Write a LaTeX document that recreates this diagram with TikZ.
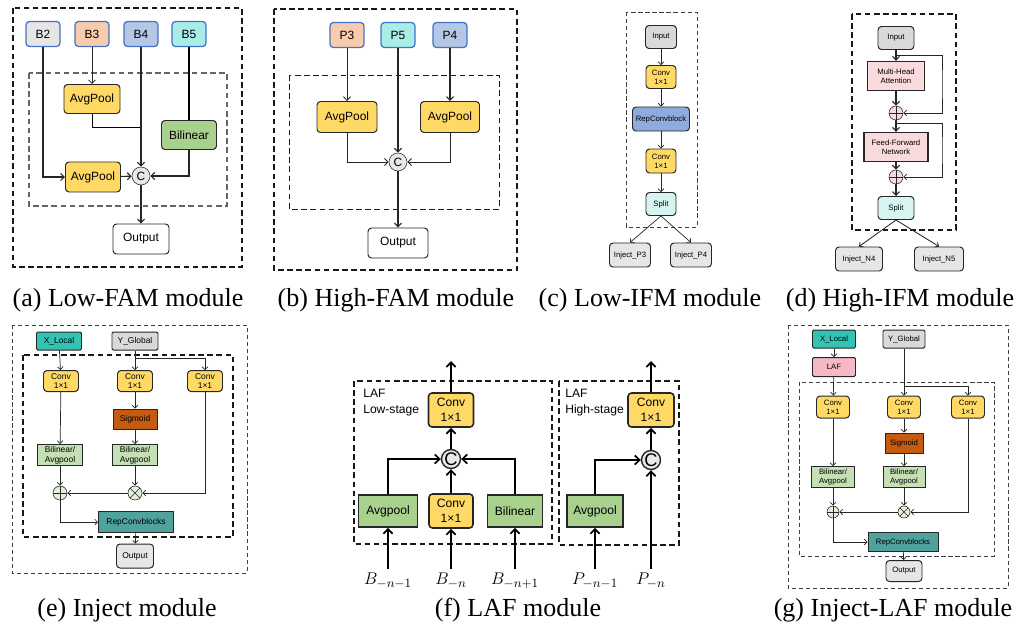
\documentclass[tikz,border=0pt]{standalone}
\usepackage{fontspec}
\setmainfont{Liberation Serif}
\setsansfont{Liberation Sans}
\usetikzlibrary{arrows.meta,positioning,calc}
\definecolor{FeatBlue}{HTML}{4472C4}
\definecolor{FeatGray}{HTML}{E7E6E6}
\definecolor{FeatPeach}{HTML}{F8CBAD}
\definecolor{FeatLav}{HTML}{B4C7E7}
\definecolor{FeatCyan}{HTML}{A8EDE6}
\definecolor{PoolYellow}{HTML}{FFD966}
\definecolor{BilGreen}{HTML}{A9D18E}
\definecolor{CatGray}{HTML}{E8E8E8}
\definecolor{RepBlue}{HTML}{8FAADC}
\definecolor{SplitCyan}{HTML}{D6F5F1}
\definecolor{AttnPink}{HTML}{FADADD}
\definecolor{LocalTeal}{HTML}{33C3B5}
\definecolor{GlobalGray}{HTML}{D9D9D9}
\definecolor{SigOrange}{HTML}{C55A11}
\definecolor{PaleGreen}{HTML}{C5E0B4}
\definecolor{SumGreen}{HTML}{E2F0D9}
\definecolor{RepTeal}{HTML}{4FA39C}
\definecolor{LafPink}{HTML}{F4B9C5}
\newcommand{\pxu}{0.025cm}

\begin{document}
\begin{tikzpicture}[x=0.025cm,y=-0.025cm]
  \tikzset{
    sz/.style 2 args={minimum width=#1*\pxu,minimum height=#2*\pxu},
    blk/.style={draw=black!85,rounded corners=2.5pt,inner sep=0pt,align=center,line width=0.7pt},
    sqblk/.style={draw=black!85,inner sep=0pt,align=center,line width=0.7pt},
    famtext/.style={font=\fontsize{8.5}{10}\selectfont\sffamily},
    ifmtext/.style={font=\fontsize{5.5}{6.5}\selectfont\sffamily},
    injtext/.style={font=\fontsize{6}{7}\selectfont\sffamily},
    laftext/.style={font=\fontsize{8.6}{11}\selectfont\sffamily},
    featbox/.style={blk,draw=FeatBlue,line width=0.9pt,sz={34}{25},famtext},
    catnode/.style={circle,draw=black!85,fill=CatGray,inner sep=0pt,minimum size=#1*\pxu},
    oplus/.style={circle,draw=black!85,inner sep=0pt,minimum size=#1*\pxu,
      path picture={\draw[black!85] (path picture bounding box.north)--(path picture bounding box.south)
        (path picture bounding box.west)--(path picture bounding box.east);}},
    otimes/.style={circle,draw=black!85,inner sep=0pt,minimum size=#1*\pxu,
      path picture={\draw[black!85] (path picture bounding box.north west)--(path picture bounding box.south east)
        (path picture bounding box.north east)--(path picture bounding box.south west);}},
    outframe/.style={draw=black!90,line width=1pt,dash pattern=on 4pt off 2.5pt},
    thinframe/.style={draw=black!75,line width=0.5pt,dash pattern=on 3pt off 2pt},
    arr/.style={-{Straight Barb[length=2.6pt,width=5pt]},line width=0.8pt,draw=black!85},
    thinarr/.style={-{Straight Barb[length=2pt,width=4pt]},line width=0.5pt,draw=black!85},
    fatarr/.style={-{Straight Barb[length=3.4pt,width=6.5pt]},line width=1.2pt,draw=black},
    captext/.style={font=\fontsize{18.5}{21}\selectfont,inner sep=0pt}
  }
  \useasboundingbox (0,0) rectangle (1022,627);

  % (a) Low-FAM
  \draw[outframe] (13,8) rectangle (242,267);
  \draw[outframe,draw=black!60,line width=0.8pt] (29,73) rectangle (227,206);
  \node[featbox,fill=FeatGray] (b2) at (43,34) {B2};
  \node[featbox,fill=FeatPeach] (b3) at (92,34) {B3};
  \node[featbox,fill=FeatLav] (b4) at (141,34) {B4};
  \node[featbox,fill=FeatCyan] (b5) at (189,34) {B5};
  \node[blk,fill=PoolYellow,sz={56}{29},famtext] (lpool1) at (92,99) {AvgPool};
  \node[blk,fill=BilGreen,sz={55}{29},famtext] (lbil) at (189,135) {Bilinear};
  \node[blk,fill=PoolYellow,sz={55}{30},famtext] (lpool2) at (93,177) {AvgPool};
  \node[catnode=18,famtext] (lcat) at (141,176) {C};
  \node[blk,sz={56}{30},famtext] (lout) at (141,239) {Output};
  \coordinate (ljoin) at (141,127);
  \draw[arr] (b2.south) |- (lpool2.west);
  \draw[arr,line width=0.5pt] (b3) -- (lpool1);
  \draw[line width=0.5pt] (lpool1.south) |- (ljoin);
  \draw[arr] (b4) -- (lcat);
  \draw[line width=0.8pt] (b5) -- (lbil);
  \draw[arr] (lbil.south) |- (lcat.east);
  \draw[arr] (lpool2) -- (lcat);
  \draw[arr] (lcat) -- (lout);
  \node[captext] (capa) at (128,300) {(a) Low-FAM module};

  % (b) High-FAM
  \draw[outframe] (274,9) rectangle (517,270);
  \draw[outframe,line width=0.6pt] (289,75) rectangle (499,209);
  \node[featbox,fill=FeatPeach] (p3) at (347,35) {P3};
  \node[featbox,fill=FeatCyan] (p5) at (398,35) {P5};
  \node[featbox,fill=FeatLav] (p4) at (450,35) {P4};
  \node[blk,fill=PoolYellow,sz={60}{31},famtext] (hpool1) at (347,117) {AvgPool};
  \node[blk,fill=PoolYellow,sz={59}{31},famtext] (hpool2) at (450,117) {AvgPool};
  \node[catnode=18,famtext] (hcat) at (398,162) {C};
  \node[blk,sz={60}{30},famtext] (hout) at (398,243) {Output};
  \draw[arr,line width=0.6pt] (p3) -- (hpool1);
  \draw[arr] (p5) -- (hcat);
  \draw[arr] (p4) -- (hpool2);
  \draw[arr,line width=0.6pt] (hpool1.south) |- (hcat.west);
  \draw[arr,line width=0.6pt] (hpool2.south) |- (hcat.east);
  \draw[arr] (hcat) -- (hout);
  \node[captext] (capb) at (396,300) {(b) High-FAM module};

  % (c) Low-IFM
  \draw[thinframe] (626,12) rectangle (697,227);
  \node[blk,fill=GlobalGray,sz={31}{23},ifmtext] (cin) at (661,37) {Input};
  \node[blk,fill=PoolYellow,sz={30}{23},ifmtext] (cconv1) at (661,77) {Conv\\1×1};
  \node[blk,fill=RepBlue,sz={57}{24},ifmtext] (crep) at (661,119) {RepConvblock};
  \node[blk,fill=PoolYellow,sz={30}{24},ifmtext] (cconv2) at (661,161) {Conv\\1×1};
  \node[blk,fill=SplitCyan,sz={30}{23},ifmtext] (csplit) at (661,204) {Split};
  \node[blk,fill=FeatGray,sz={41}{24},ifmtext] (cp3) at (630,255) {Inject\_P3};
  \node[blk,fill=FeatGray,sz={41}{24},ifmtext] (cp4) at (691,255) {Inject\_P4};
  \draw[thinarr] (cin) -- (cconv1);
  \draw[thinarr] (cconv1) -- (crep);
  \draw[thinarr] (crep) -- (cconv2);
  \draw[thinarr] (cconv2) -- (csplit);
  \draw[thinarr] (csplit.south) -- (cp3.north);
  \draw[thinarr] (csplit.south) -- (cp4.north);
  \node[captext] (capc) at (650,300) {(c) Low-IFM module};

  % (d) High-IFM
  \draw[outframe] (852,14) rectangle (956,230);
  \node[blk,fill=GlobalGray,sz={36}{23},ifmtext] (din) at (896,38) {Input};
  \node[sqblk,fill=AttnPink,line width=1pt,sz={57}{29},ifmtext] (dmha) at (896,76) {Multi-Head\\Attention};
  \node[oplus=14,fill=AttnPink] (dsum1) at (896,113) {};
  \node[sqblk,fill=AttnPink,line width=1pt,sz={64}{29},ifmtext] (dffn) at (896,147) {Feed-Forward\\Network};
  \node[oplus=14,fill=AttnPink] (dsum2) at (896,177) {};
  \node[blk,fill=SplitCyan,sz={36}{23},ifmtext] (dsplit) at (896,208) {Split};
  \node[blk,fill=FeatGray,sz={47}{24},ifmtext] (dn4) at (859,259) {Inject\_N4};
  \node[blk,fill=FeatGray,sz={49}{24},ifmtext] (dn5) at (939,259) {Inject\_N5};
  \coordinate (dres1) at (896,55);
  \coordinate (dturn1) at (942,84);
  \coordinate (dres2) at (896,123);
  \coordinate (dturn2) at (942,150);
  \draw[arr] (din) -- (dmha);
  \draw[arr] (dmha) -- (dsum1);
  \draw[arr] (dsum1) -- (dffn);
  \draw[arr] (dffn) -- (dsum2);
  \draw[arr] (dsum2) -- (dsplit);
  \draw[thinarr,line width=0.6pt] (dres1) -| (dturn1) |- (dsum1.east);
  \draw[thinarr,line width=0.6pt] (dres2) -| (dturn2) |- (dsum2.east);
  \draw[thinarr,line width=0.6pt] (dsplit.south) -- (dn4.north);
  \draw[thinarr,line width=0.6pt] (dsplit.south) -- (dn5.north);
  \node[captext] (capd) at (900,300) {(d) High-IFM module};

  % (e) Inject
  \draw[thinframe] (12,325) rectangle (247,573);
  \draw[outframe,line width=0.9pt] (23,355) rectangle (233,537);
  \node[blk,rounded corners=1pt,fill=LocalTeal,sz={45}{18},injtext] (exl) at (59,341) {X\_Local};
  \node[blk,rounded corners=1pt,fill=GlobalGray,sz={46}{18},injtext] (eyg) at (135,341) {Y\_Global};
  \node[blk,fill=PoolYellow,sz={35}{21},injtext] (econv1) at (61,381) {Conv\\1×1};
  \node[blk,fill=PoolYellow,sz={35}{21},injtext] (econv2) at (135,381) {Conv\\1×1};
  \node[blk,fill=PoolYellow,sz={35}{21},injtext] (econv3) at (205,381) {Conv\\1×1};
  \node[sqblk,fill=SigOrange,sz={44}{20},injtext] (esig) at (135,419) {Sigmoid};
  \node[sqblk,fill=PaleGreen,sz={45}{21},injtext] (eba1) at (60,455) {Bilinear/\\Avgpool};
  \node[sqblk,fill=PaleGreen,sz={45}{21},injtext] (eba2) at (135,455) {Bilinear/\\Avgpool};
  \node[oplus=14,fill=SumGreen] (esum) at (60,493) {};
  \node[otimes=14,fill=SumGreen] (eprod) at (135,493) {};
  \node[sqblk,fill=RepTeal,sz={75}{21},injtext] (erep) at (136,522) {RepConvblocks};
  \node[blk,fill=FeatGray,sz={37}{24},injtext] (eout) at (135,556) {Output};
  \coordinate (ejoin) at (135,358);
  \draw[thinarr] (exl) -- (econv1);
  \draw[thinarr] (eyg) -- (econv2);
  \draw[thinarr] (ejoin) -| (econv3.north);
  \draw[thinarr] (econv1) -- (eba1);
  \draw[thinarr] (econv2) -- (esig);
  \draw[thinarr] (esig) -- (eba2);
  \draw[thinarr] (eba1) -- (esum);
  \draw[thinarr] (eba2) -- (eprod);
  \draw[thinarr] (econv3.south) |- (eprod.east);
  \draw[thinarr] (eprod) -- (esum);
  \draw[thinarr] (esum.south) |- (erep.west);
  \draw[thinarr] (erep) -- (eout);
  \node[captext] (cape) at (127,610) {(e) Inject module};

  % (f) LAF
  \draw[outframe,line width=1.1pt] (354,381) rectangle (552,544);
  \draw[outframe,line width=1.1pt] (559,381) rectangle (679,545);
  \node[laftext,align=left,anchor=north west,inner sep=0pt] (flow) at (363,389) {LAF\\Low-stage};
  \node[laftext,align=left,anchor=north west,inner sep=0pt] (fhigh) at (565,389) {LAF\\High-stage};
  \node[blk,line width=1.1pt,fill=PoolYellow,sz={45}{34},laftext] (fconv) at (451,410) {Conv\\1×1};
  \node[catnode=19,line width=1pt,font=\fontsize{13}{14}\selectfont\sffamily] (fcat) at (451,459) {C};
  \node[sqblk,line width=1.1pt,fill=BilGreen,sz={59}{32},laftext] (fpool) at (388,511) {Avgpool};
  \node[blk,line width=1.1pt,fill=PoolYellow,sz={44}{34},laftext] (fmid) at (451,511) {Conv\\1×1};
  \node[sqblk,line width=1.1pt,fill=BilGreen,sz={55}{32},laftext] (fbil) at (515,511) {Bilinear};
  \node[inner sep=0pt,font=\fontsize{13}{15}\selectfont] (fb1) at (388,581) {$B_{-n-1}$};
  \node[inner sep=0pt,font=\fontsize{13}{15}\selectfont] (fb2) at (451,581) {$B_{-n}$};
  \node[inner sep=0pt,font=\fontsize{13}{15}\selectfont] (fb3) at (515,581) {$B_{-n+1}$};
  \coordinate (ftop1) at (451,361);
  \draw[fatarr] (fconv) -- (ftop1);
  \draw[fatarr] (fcat) -- (fconv);
  \draw[fatarr] (fmid) -- (fcat);
  \draw[fatarr] (fpool.north) |- (fcat.west);
  \draw[fatarr] (fbil.north) |- (fcat.east);
  \draw[fatarr,shorten <=3pt] (fb1.north -| fpool) -- (fpool.south);
  \draw[fatarr,shorten <=3pt] (fb2.north) -- (fmid.south);
  \draw[fatarr,shorten <=3pt] (fb3.north -| fbil) -- (fbil.south);
  \node[blk,line width=1.1pt,fill=PoolYellow,sz={46}{34},laftext] (fhconv) at (651,410) {Conv\\1×1};
  \node[catnode=19,line width=1pt,font=\fontsize{13}{14}\selectfont\sffamily] (fhcat) at (651,460) {C};
  \node[sqblk,line width=1.1pt,fill=BilGreen,sz={56}{32},laftext] (fhpool) at (595,511) {Avgpool};
  \node[inner sep=0pt,font=\fontsize{13}{15}\selectfont] (fp1) at (595,581) {$P_{-n-1}$};
  \node[inner sep=0pt,font=\fontsize{13}{15}\selectfont] (fp2) at (651,581) {$P_{-n}$};
  \coordinate (ftop2) at (651,361);
  \draw[fatarr] (fhconv) -- (ftop2);
  \draw[fatarr] (fhcat) -- (fhconv);
  \draw[fatarr] (fhpool.north) |- (fhcat.west);
  \draw[fatarr,shorten <=3pt] (fp1.north -| fhpool) -- (fhpool.south);
  \draw[fatarr,shorten <=3pt] (fp2.north) -- (fhcat.south);
  \node[captext] (capf) at (518,610) {(f) LAF module};

  % (g) Inject-LAF
  \draw[thinframe] (788,325) rectangle (1008,588);
  \draw[thinframe] (799,382) rectangle (994,556);
  \node[blk,rounded corners=1pt,fill=LocalTeal,sz={43}{18},ifmtext] (gxl) at (834,339) {X\_Local};
  \node[blk,rounded corners=1pt,fill=GlobalGray,sz={42}{18},ifmtext] (gyg) at (904,339) {Y\_Global};
  \node[blk,rounded corners=1pt,fill=LafPink,sz={43}{19},ifmtext] (glaf) at (834,367) {LAF};
  \node[blk,fill=PoolYellow,sz={33}{22},ifmtext] (gconv1) at (833,407) {Conv\\1×1};
  \node[blk,fill=PoolYellow,sz={33}{22},ifmtext] (gconv2) at (904,407) {Conv\\1×1};
  \node[blk,fill=PoolYellow,sz={33}{22},ifmtext] (gconv3) at (968,407) {Conv\\1×1};
  \node[sqblk,fill=SigOrange,sz={38}{20},ifmtext] (gsig) at (904,443) {Sigmoid};
  \node[sqblk,fill=PaleGreen,sz={43}{21},ifmtext] (gba1) at (833,477) {Bilinear/\\Avgpool};
  \node[sqblk,fill=PaleGreen,sz={42}{21},ifmtext] (gba2) at (904,477) {Bilinear/\\Avgpool};
  \node[oplus=12,fill=SumGreen] (gsum) at (833,512) {};
  \node[otimes=12,fill=SumGreen] (gprod) at (904,512) {};
  \node[sqblk,fill=RepTeal,sz={70}{19},ifmtext] (grep) at (903,542) {RepConvblocks};
  \node[blk,fill=FeatGray,sz={36}{21},ifmtext] (gout) at (904,571) {Output};
  \coordinate (gjoin) at (904,386);
  \draw[thinarr] (gxl) -- (glaf);
  \draw[thinarr] (glaf) -- (gconv1);
  \draw[thinarr] (gyg) -- (gconv2);
  \draw[thinarr] (gjoin) -| (gconv3.north);
  \draw[thinarr] (gconv1) -- (gba1);
  \draw[thinarr] (gconv2) -- (gsig);
  \draw[thinarr] (gsig) -- (gba2);
  \draw[thinarr] (gba1) -- (gsum);
  \draw[thinarr] (gba2) -- (gprod);
  \draw[thinarr] (gconv3.south) |- (gprod.east);
  \draw[thinarr] (gprod) -- (gsum);
  \draw[thinarr] (gsum.south) |- (grep.west);
  \draw[thinarr] (grep) -- (gout);
  \node[captext] (capg) at (893,610) {(g) Inject-LAF module};
\end{tikzpicture}
\end{document}
